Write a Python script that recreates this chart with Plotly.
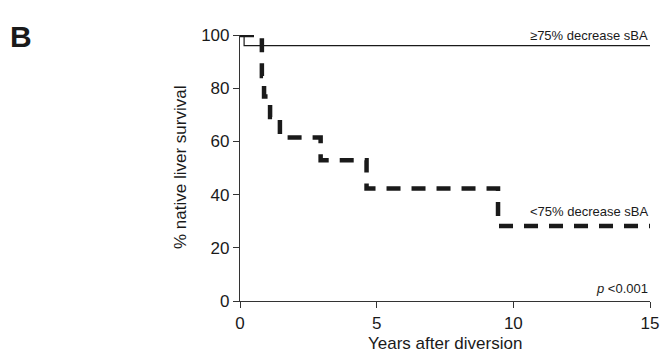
import plotly.graph_objects as go

# Data
years_low = [0, 0.8, 0.88, 1.1, 1.46, 2.95, 4.63, 9.44, 15]
surv_low = [100, 84.6, 76.9, 69.2, 61.5, 52.9, 42.3, 28.2, 28.2]
years_high = [0, 0.15, 15]
surv_high = [100, 96, 96]
x_ticks = [0, 5, 10, 15]
y_ticks = [0, 20, 40, 60, 80, 100]

fig = go.Figure()
fig.add_trace(go.Scatter(x=years_high, y=surv_high, mode="lines", line_shape="hv",
                         line=dict(color="#1a1a1a", width=1.2), showlegend=False))
fig.add_trace(go.Scatter(x=years_low, y=surv_low, mode="lines", line_shape="hv",
                         line=dict(color="#1a1a1a", width=4.5, dash="14px,11px"), showlegend=False))

font = "Liberation Sans, Arial, sans-serif"
fig.update_layout(
    template="none",
    width=662, height=356,
    margin=dict(l=240, r=12, t=35, b=55),
    paper_bgcolor="white", plot_bgcolor="white",
    font=dict(family=font, color="#1a1a1a", size=17),
    xaxis=dict(range=[0, 15], tickvals=x_ticks, showgrid=False, zeroline=False, automargin=False,
               showline=True, linecolor="#333", linewidth=1.2, ticks="outside",
               ticklen=6, tickcolor="#333", tickwidth=1.2, tickfont=dict(size=17)),
    yaxis=dict(range=[0, 100], tickvals=y_ticks, showgrid=False, zeroline=False, automargin=False,
               showline=True, linecolor="#333", linewidth=1.2, ticks="outside",
               ticklen=6, tickcolor="#333", tickwidth=1.2, tickfont=dict(size=17)),
    annotations=[
        dict(text="Years after diversion", xref="paper", yref="paper", x=0.5, y=0,
             xanchor="center", yanchor="middle", yshift=-42, showarrow=False,
             font=dict(size=17)),
        dict(text="% native liver survival", xref="paper", yref="paper", x=0, y=0.5,
             xanchor="center", yanchor="middle", xshift=-60, textangle=-90, showarrow=False,
             font=dict(size=17)),
        dict(text="<b>B</b>", xref="paper", yref="paper", x=-0.565, y=1.065,
             xanchor="left", yanchor="top", showarrow=False, font=dict(size=30)),
        dict(text="≥75% decrease sBA", xref="x", yref="y", x=15, y=96.3,
             xanchor="right", yanchor="bottom", showarrow=False, font=dict(size=13)),
        dict(text="<75% decrease sBA", xref="x", yref="y", x=15, y=30,
             xanchor="right", yanchor="bottom", showarrow=False, font=dict(size=13)),
        dict(text="<i>p</i> <0.001", xref="x", yref="y", x=15, y=1.0,
             xanchor="right", yanchor="bottom", showarrow=False, font=dict(size=13)),
    ],
)

fig.write_html(
    "out.html",
    config={"displayModeBar": False},
    post_script="document.body.style.margin='0';document.body.style.overflow='hidden';",
)
